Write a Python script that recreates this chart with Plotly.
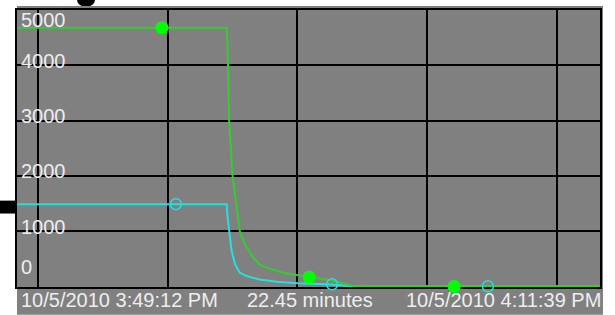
import pandas as pd
import plotly.graph_objects as go

# ---- data ----
start_time = "2010-10-05 15:49:12"
end_time = "2010-10-05 16:11:39"
duration_label = "22.45 minutes"
start_label = "10/5/2010 3:49:12 PM"
end_label = "10/5/2010 4:11:39 PM"

# elapsed seconds from start, and values
green_sec = [0, 485, 487.5, 490, 498, 504, 508, 515, 527, 546, 561, 585, 615, 650, 675, 723, 769, 780, 1347]
green_val = [4680, 4680, 4000, 3000, 2007, 1645, 1346, 987, 753, 515, 394, 317, 245, 195, 167, 113, 18, 0, 0]

cyan_sec = [0, 484.5, 486, 490.5, 496, 504, 515, 531, 561, 600, 649, 716, 769, 780, 1347]
cyan_val = [1487, 1487, 1290, 932, 633, 394, 246, 185, 125, 84, 54, 36, 5, 0, 0]

green_marker_sec = [335, 675, 1010]
green_marker_val = [4680, 167, 0]
cyan_marker_sec = [367, 728, 1088]
cyan_marker_val = [1487, 36, 0]

y_ticks = [0, 1000, 2000, 3000, 4000, 5000]
y_tick_text = ["0", "1000", "2000", "3000", "4000", "5000"]

# ---- build ----
t0 = pd.Timestamp(start_time)
def to_time(secs):
    return [t0 + pd.to_timedelta(s, unit="s") for s in secs]

GRAY = "#808080"
GREEN_LINE = "#33cc33"
GREEN_MARK = "#00ff00"
CYAN = "#22e0e0"
TXT = "#eeeeee"
FONT = "Liberation Sans, Arial, sans-serif"

fig = go.Figure()
fig.add_trace(go.Scatter(x=to_time(cyan_sec), y=cyan_val, mode="lines",
                         line=dict(color=CYAN, width=2), hoverinfo="skip"))
fig.add_trace(go.Scatter(x=to_time(green_sec), y=green_val, mode="lines",
                         line=dict(color=GREEN_LINE, width=2), hoverinfo="skip"))
fig.add_trace(go.Scatter(x=to_time(green_marker_sec), y=green_marker_val, mode="markers",
                         marker=dict(color=GREEN_MARK, size=13, line=dict(width=0)),
                         cliponaxis=False, hoverinfo="skip"))
fig.add_trace(go.Scatter(x=to_time(cyan_marker_sec), y=cyan_marker_val, mode="markers",
                         marker=dict(symbol="circle-open", color=CYAN, size=11, line=dict(width=1.5)),
                         cliponaxis=False, hoverinfo="skip"))

W, H = 615, 315
L, R, T, B = 17, 15, 8, 28
PW, PH = W - L - R, H - T - B

def px(x):
    return (x - L) / PW

def py(y):
    return (H - B - y) / PH

shapes = [
    # black decorations behind the chart
    dict(type="rect", xref="paper", yref="paper", x0=px(0), x1=px(17), y0=py(213), y1=py(200),
         fillcolor="black", line=dict(width=0), layer="below"),
    dict(type="circle", xref="paper", yref="paper", x0=px(77), x1=px(95), y0=py(5), y1=py(-10),
         fillcolor="black", line=dict(width=0), layer="below"),
    # gray panel
    dict(type="rect", xref="paper", yref="paper", x0=px(17), x1=px(603), y0=py(315), y1=py(4),
         fillcolor=GRAY, line=dict(width=0), layer="below"),
]

annotations = []
shifts = {0: 19, 1000: 4.5, 2000: 4.5, 3000: 4.5, 4000: 4.5, 5000: -10}
for v, txt in zip(y_ticks, y_tick_text):
    annotations.append(dict(x=px(19), xref="paper", y=v, yref="y", text=txt, showarrow=False,
                            xanchor="left", yanchor="middle", yshift=shifts[v],
                            font=dict(family=FONT, size=20, color=TXT)))

annotations += [
    dict(x=0, xref="paper", y=0, yref="paper", text=start_label, showarrow=False,
         xanchor="left", yanchor="top", xshift=2, yshift=0,
         font=dict(family=FONT, size=20, color=TXT)),
    dict(x=0.5, xref="paper", y=0, yref="paper", text=duration_label, showarrow=False,
         xanchor="center", yanchor="top", xshift=1, yshift=0,
         font=dict(family=FONT, size=20, color=TXT)),
    dict(x=1, xref="paper", y=0, yref="paper", text=end_label, showarrow=False,
         xanchor="right", yanchor="top", xshift=3, yshift=0,
         font=dict(family=FONT, size=20, color=TXT)),
]

fig.update_layout(
    width=W, height=H, margin=dict(l=L, r=R, t=T, b=B, pad=0),
    paper_bgcolor="white", plot_bgcolor=GRAY, showlegend=False,
    shapes=shapes, annotations=annotations,
    xaxis=dict(type="date", range=[start_time, end_time], tick0="2010-10-05 15:50:00",
               dtick=300000, showticklabels=False, ticks="", showgrid=True,
               gridcolor="black", gridwidth=1.5, zeroline=False,
               showline=True, linecolor="black", linewidth=2, mirror=True, layer="below traces"),
    yaxis=dict(range=[-12, 5000], tick0=0, dtick=1000, showticklabels=False, ticks="",
               showgrid=True, gridcolor="black", gridwidth=1.5, zeroline=False,
               showline=True, linecolor="black", linewidth=2, mirror=True, layer="below traces"),
)

fig.write_html("out.html", config={"displayModeBar": False},
               post_script="document.body.style.margin='0';document.body.style.overflow='hidden';")
